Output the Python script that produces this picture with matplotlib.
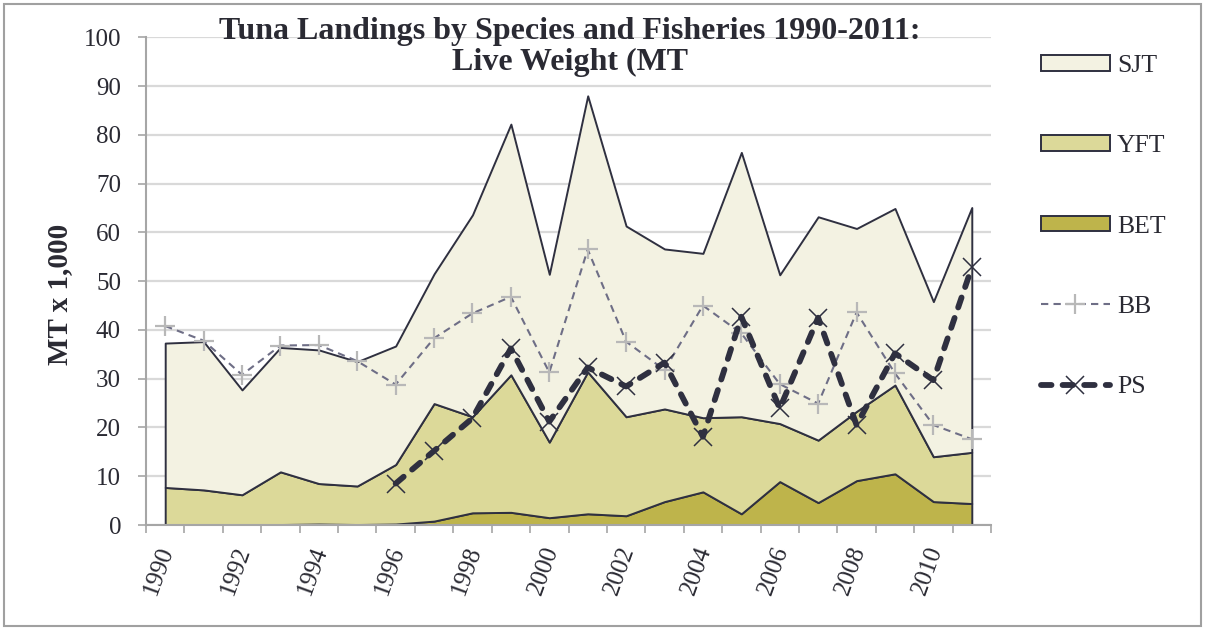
"""
Tuna landings by species (stacked areas) with pole-and-line (BB) and
purse seine (PS) catches drawn as lines on top.
"""

import numpy as np
import matplotlib
matplotlib.use('Agg')
import matplotlib.pyplot as plt
import matplotlib.patches as mpatches
import matplotlib.transforms as mtransforms

plt.rcParams['font.family'] = ['Liberation Serif', 'DejaVu Serif']

# Landings in MT x 1,000
years = list(range(1990, 2012))
bet = [0.1, 0.1, 0.1, 0.1, 0.2, 0.1, 0.2, 0.8, 2.5, 2.6, 1.5,
       2.3, 1.9, 4.8, 6.8, 2.3, 8.9, 4.6, 9.1, 10.5, 4.8, 4.4]
yft = [7.6, 7.1, 6.1, 10.8, 8.3, 7.9, 12.2, 24.1, 19.7, 28.2, 15.5,
       29.1, 20.3, 19.0, 15.2, 19.9, 11.9, 12.8, 14.2, 18.2, 9.2, 10.5]
sjt = [29.6, 30.4, 21.5, 25.5, 27.4, 25.5, 24.3, 26.6, 41.4, 51.4, 34.4,
       56.6, 39.1, 32.8, 33.7, 54.2, 30.5, 45.8, 37.5, 36.2, 31.8, 50.2]
bb = [40.8, 37.8, 30.8, 36.8, 36.9, 33.6, 28.8, 38.3, 43.4, 46.8, 31.3,
      56.5, 37.6, 31.8, 45.0, 39.3, 28.9, 24.9, 43.6, 31.1, 20.5, 17.6]
ps = [np.nan, np.nan, np.nan, np.nan, np.nan, np.nan, 8.5, 15.2, 21.9, 36.2, 21.2,
      32.3, 28.4, 33.3, 18.1, 42.7, 23.9, 42.5, 20.5, 35.2, 29.7, 52.8]

c_sjt = '#F3F2E2'
c_yft = '#DCD999'
c_bet = '#BEB44B'
c_edge = '#2F3040'
c_bb = '#6E6E86'
c_grid = '#D9D9D9'
c_axis = '#A6A6A6'
c_text = '#2A2A33'

fig = plt.figure(figsize=(12.05, 6.30), dpi=100)
ax = fig.add_axes([146 / 1205, 1 - 525 / 630, (991 - 146) / 1205, (525 - 37.3) / 630])

x = np.arange(len(years))

ax.stackplot(x, bet, yft, sjt, colors=[c_bet, c_yft, c_sjt],
             edgecolor=c_edge, linewidth=1.4, zorder=2)

ax.plot(x, bb, color=c_bb, lw=1.5, dashes=(3.5, 2.5), zorder=3,
        marker='+', markersize=14, markeredgewidth=1.6,
        markeredgecolor='#B8B8B8', label='BB')
ax.plot(x, ps, color=c_edge, lw=4.2, dashes=(1.8, 1.9), dash_capstyle='round',
        zorder=4, marker='x', markersize=13, markeredgewidth=1.1,
        markeredgecolor=c_edge, label='PS')

# Axes, ticks and grid
ax.set_xlim(-0.5, len(years) - 0.5)
ax.set_ylim(0, 100)
ax.set_yticks(np.arange(0, 101, 10))
ax.yaxis.grid(True, color=c_grid, lw=1.6)
ax.set_axisbelow(True)

for side in ['top', 'right']:
    ax.spines[side].set_visible(False)
for side in ['left', 'bottom']:
    ax.spines[side].set_color(c_axis)
    ax.spines[side].set_linewidth(1.5)

ax.tick_params(axis='y', direction='out', length=6, width=1.2, color=c_axis,
               pad=12, labelsize=18, labelcolor=c_text)

ax.set_xticks(np.arange(-0.5, len(years)), minor=True)
ax.set_xticks(x[::2])
ax.set_xticklabels([str(y) for y in years[::2]], rotation=70,
                   ha='center', va='top')
ax.tick_params(axis='x', which='minor', direction='out', length=6, width=1.2,
               color=c_axis)
ax.tick_params(axis='x', which='major', length=0, pad=13, labelsize=18,
               labelcolor=c_text)
shift = mtransforms.ScaledTranslation(-6 / 100, 0, fig.dpi_scale_trans)
for lab in ax.get_xticklabels():
    lab.set_transform(lab.get_transform() + shift)

fig.text(60 / 1205, 1 - 294 / 630, 'MT x 1,000', rotation=90,
         ha='center', va='center', fontsize=21, fontweight='bold',
         color=c_text)

fig.text(570 / 1205, 1 - 17 / 630,
         'Tuna Landings by Species and Fisheries 1990-2011:\nLive Weight (MT',
         ha='center', va='top', fontsize=23, fontweight='bold',
         color=c_text, linespacing=1.08)

# Legend on the right
handles = [
    mpatches.Patch(facecolor=c_sjt, edgecolor=c_edge, lw=1.4, label='SJT'),
    mpatches.Patch(facecolor=c_yft, edgecolor=c_edge, lw=1.4, label='YFT'),
    mpatches.Patch(facecolor=c_bet, edgecolor=c_edge, lw=1.4, label='BET'),
]
line_handles, _ = ax.get_legend_handles_labels()
handles += line_handles
fig.legend(handles=handles, loc='upper left',
           bbox_to_anchor=(1041 / 1205, 1 - 55 / 630),
           frameon=False, fontsize=18.5, labelspacing=2.27, handlelength=2.68,
           handleheight=0.57, handletextpad=0.27, borderpad=0,
           borderaxespad=0, numpoints=1, labelcolor=c_text)

# Thin frame round the whole figure
fig.patches.append(mpatches.Rectangle(
    (4 / 1205, 4 / 630), 1197 / 1205, 622 / 630, transform=fig.transFigure,
    fill=False, edgecolor='#A0A0A0', lw=1.5))

fig.savefig('out.png', dpi=100, facecolor='white')
